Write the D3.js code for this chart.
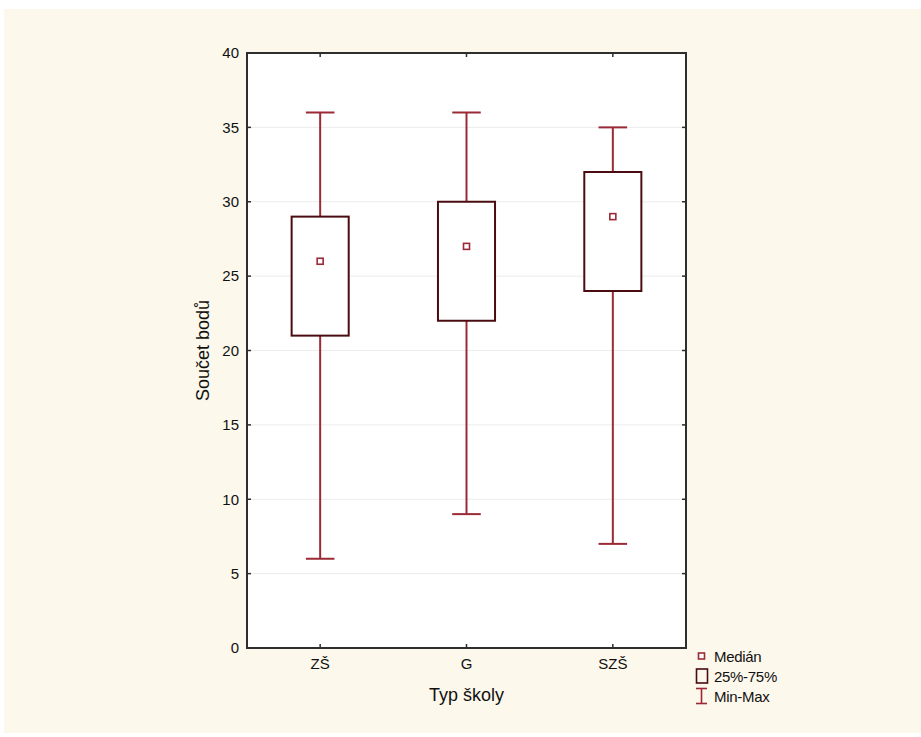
<!DOCTYPE html>
<html>
<head>
<meta charset="utf-8">
<script src="https://cdn.jsdelivr.net/npm/d3@7"></script>
<style>
  html, body { margin: 0; padding: 0; background: #ffffff; }
  svg { display: block; font-family: "Liberation Sans", Arial, sans-serif; }
</style>
</head>
<body>
<svg id="chart" width="921" height="737"></svg>
<script>
// Score totals by school type: min, quartiles, median, max
const categories = ["ZŠ", "G", "SZŠ"];
const minVals    = [6, 9, 7];
const q1Vals     = [21, 22, 24];
const medianVals = [26, 27, 29];
const q3Vals     = [29, 30, 32];
const maxVals    = [36, 36, 35];
const yTicks     = [0, 5, 10, 15, 20, 25, 30, 35, 40];
const legendLabels = ["Medián", "25%-75%", "Min-Max"];

const svg = d3.select("#chart");
const W = 921, H = 737;
const plot = { left: 247, right: 686, top: 53, bottom: 648 };

const whiskerColor = "#9a2a36";
const boxColor = "#4a0c10";
const frameColor = "#2e2e2e";

// page background panel
svg.append("rect").attr("x", 4).attr("y", 9).attr("width", W - 4).attr("height", 724)
  .attr("fill", "#fdf8ec");

// plot area
svg.append("rect")
  .attr("x", plot.left).attr("y", plot.top)
  .attr("width", plot.right - plot.left).attr("height", plot.bottom - plot.top)
  .attr("fill", "#ffffff");

const x = d3.scaleBand().domain(categories).range([plot.left, plot.right]);
const y = d3.scaleLinear().domain([0, 40]).range([plot.bottom, plot.top]);

// faint horizontal gridlines
svg.append("g").selectAll("line").data(yTicks.filter(t => t > 0 && t < 40)).join("line")
  .attr("x1", plot.left).attr("x2", plot.right)
  .attr("y1", d => y(d)).attr("y2", d => y(d))
  .attr("stroke", "#ececec").attr("stroke-width", 1);

const data = categories.map((c, i) => ({
  cat: c, min: minVals[i], q1: q1Vals[i], med: medianVals[i], q3: q3Vals[i], max: maxVals[i]
}));

const boxW = x.bandwidth() * 0.39;
const capW = boxW / 2;

const g = svg.append("g").selectAll("g").data(data).join("g")
  .attr("transform", d => `translate(${x(d.cat) + x.bandwidth() / 2},0)`);

// whiskers
g.append("line").attr("x1", 0).attr("x2", 0)
  .attr("y1", d => y(d.max)).attr("y2", d => y(d.q3))
  .attr("stroke", whiskerColor).attr("stroke-width", 2);
g.append("line").attr("x1", 0).attr("x2", 0)
  .attr("y1", d => y(d.q1)).attr("y2", d => y(d.min))
  .attr("stroke", whiskerColor).attr("stroke-width", 2);
// caps
g.append("line").attr("x1", -capW / 2).attr("x2", capW / 2)
  .attr("y1", d => y(d.max)).attr("y2", d => y(d.max))
  .attr("stroke", whiskerColor).attr("stroke-width", 2);
g.append("line").attr("x1", -capW / 2).attr("x2", capW / 2)
  .attr("y1", d => y(d.min)).attr("y2", d => y(d.min))
  .attr("stroke", whiskerColor).attr("stroke-width", 2);
// interquartile box
g.append("rect")
  .attr("x", -boxW / 2).attr("width", boxW)
  .attr("y", d => y(d.q3)).attr("height", d => y(d.q1) - y(d.q3))
  .attr("fill", "#ffffff").attr("stroke", boxColor).attr("stroke-width", 2);
// median marker
g.append("rect")
  .attr("x", -3).attr("width", 6)
  .attr("y", d => y(d.med) - 3).attr("height", 6)
  .attr("fill", "#ffffff").attr("stroke", whiskerColor).attr("stroke-width", 1.6);

// frame
svg.append("rect")
  .attr("x", plot.left).attr("y", plot.top)
  .attr("width", plot.right - plot.left).attr("height", plot.bottom - plot.top)
  .attr("fill", "none").attr("stroke", frameColor).attr("stroke-width", 2);

// inward ticks on all four sides
const tickLen = 4;
const yInner = yTicks.filter(t => t > 0 && t < 40);
svg.append("g").selectAll("line").data(yInner).join("line")
  .attr("x1", plot.left).attr("x2", plot.left + tickLen)
  .attr("y1", d => y(d)).attr("y2", d => y(d))
  .attr("stroke", frameColor).attr("stroke-width", 1.5);
svg.append("g").selectAll("line").data(yInner).join("line")
  .attr("x1", plot.right).attr("x2", plot.right - tickLen)
  .attr("y1", d => y(d)).attr("y2", d => y(d))
  .attr("stroke", frameColor).attr("stroke-width", 1.5);
svg.append("g").selectAll("line").data(categories).join("line")
  .attr("x1", d => x(d) + x.bandwidth() / 2).attr("x2", d => x(d) + x.bandwidth() / 2)
  .attr("y1", plot.top).attr("y2", plot.top + tickLen)
  .attr("stroke", frameColor).attr("stroke-width", 1.5);
svg.append("g").selectAll("line").data(categories).join("line")
  .attr("x1", d => x(d) + x.bandwidth() / 2).attr("x2", d => x(d) + x.bandwidth() / 2)
  .attr("y1", plot.bottom).attr("y2", plot.bottom - tickLen)
  .attr("stroke", frameColor).attr("stroke-width", 1.5);

// y tick labels
svg.append("g").selectAll("text").data(yTicks).join("text")
  .attr("x", plot.left - 8).attr("y", d => y(d))
  .attr("dy", "0.35em").attr("text-anchor", "end")
  .attr("font-size", 15).attr("fill", "#111")
  .text(d => d);

// category labels
svg.append("g").selectAll("text").data(categories).join("text")
  .attr("x", d => x(d) + x.bandwidth() / 2).attr("y", plot.bottom + 21)
  .attr("text-anchor", "middle").attr("font-size", 15).attr("fill", "#111")
  .text(d => d);

// axis titles
svg.append("text")
  .attr("x", (plot.left + plot.right) / 2).attr("y", 701)
  .attr("text-anchor", "middle").attr("font-size", 18).attr("fill", "#111")
  .text("Typ školy");
svg.append("text")
  .attr("transform", `translate(209,${(plot.top + plot.bottom) / 2}) rotate(-90)`)
  .attr("text-anchor", "middle").attr("font-size", 18).attr("fill", "#111")
  .text("Součet bodů");

// legend
const lg = svg.append("g");
lg.append("rect").attr("x", 698.5).attr("y", 653).attr("width", 6).attr("height", 6)
  .attr("fill", "#ffffff").attr("stroke", whiskerColor).attr("stroke-width", 1.6);
lg.append("rect").attr("x", 696.5).attr("y", 669).attr("width", 11).attr("height", 14)
  .attr("fill", "none").attr("stroke", boxColor).attr("stroke-width", 1.6);
lg.append("line").attr("x1", 701.5).attr("x2", 701.5).attr("y1", 688).attr("y2", 704)
  .attr("stroke", whiskerColor).attr("stroke-width", 1.6);
lg.append("line").attr("x1", 696).attr("x2", 707).attr("y1", 688.5).attr("y2", 688.5)
  .attr("stroke", whiskerColor).attr("stroke-width", 1.6);
lg.append("line").attr("x1", 696).attr("x2", 707).attr("y1", 703.5).attr("y2", 703.5)
  .attr("stroke", whiskerColor).attr("stroke-width", 1.6);
lg.selectAll("text.lbl").data(legendLabels).join("text")
  .attr("class", "lbl")
  .attr("x", 714).attr("y", (d, i) => 662 + i * 20)
  .attr("font-size", 15).attr("fill", "#111").attr("letter-spacing", "-0.3")
  .text(d => d);
</script>
</body>
</html>
